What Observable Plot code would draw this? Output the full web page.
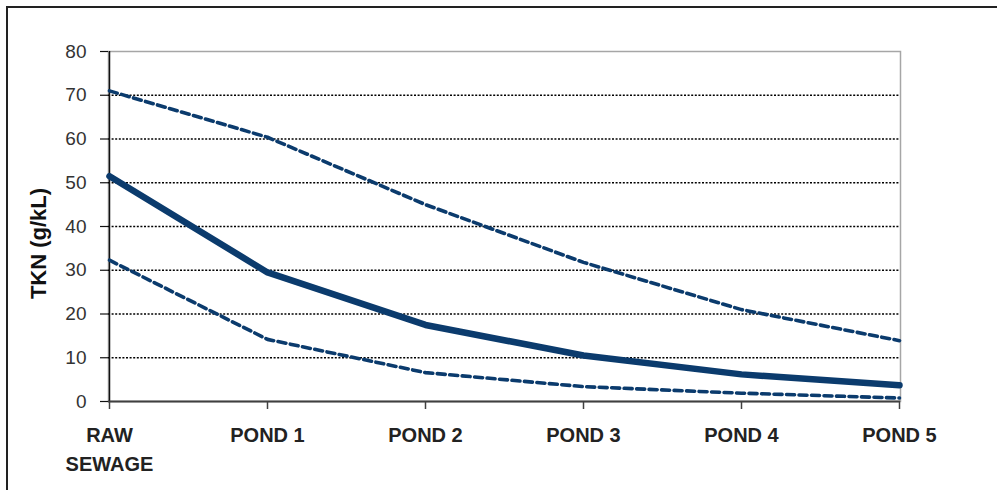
<!DOCTYPE html>
<html>
<head>
<meta charset="utf-8">
<script src="https://cdn.jsdelivr.net/npm/d3@7"></script>
<script src="https://cdn.jsdelivr.net/npm/@observablehq/plot@0.6"></script>
<style>
  html, body { margin: 0; padding: 0; background: #fff; }
  #wrap { position: relative; width: 997px; height: 490px; overflow: hidden; }
  #topBorder { position: absolute; left: 6px; top: 6px; right: 0; height: 2px; background: #222; }
  #leftBorder { position: absolute; left: 6px; top: 6px; width: 2px; bottom: 0; background: #222; }
  #chart { position: absolute; left: 0; top: 0; }
</style>
</head>
<body>
<div id="wrap">
  <div id="chart"></div>
  <div id="topBorder"></div>
  <div id="leftBorder"></div>
</div>
<script>
const categories = ["RAW SEWAGE", "POND 1", "POND 2", "POND 3", "POND 4", "POND 5"];
const meanValues = [51.5, 29.5, 17.5, 10.5, 6.2, 3.7];
const upperValues = [71, 60.4, 45, 31.8, 21, 13.9];
const lowerValues = [32.3, 14.2, 6.6, 3.4, 1.9, 0.8];
const yTicks = [0, 10, 20, 30, 40, 50, 60, 70, 80];
const gridTicks = [10, 20, 30, 40, 50, 60, 70];
const tickLabels = {"RAW SEWAGE": "RAW\nSEWAGE"};
const yLabel = "TKN (g/kL)";

const rows = (vals) => categories.map((c, i) => ({cat: c, v: vals[i]}));
const lineColor = "#0b3b6d";

const chart = Plot.plot({
  width: 997,
  height: 490,
  marginLeft: 108,
  marginRight: 97,
  marginTop: 51,
  marginBottom: 89,
  style: {fontFamily: "'Liberation Sans', Arial, sans-serif", background: "transparent"},
  x: {type: "point", domain: categories, padding: 0},
  y: {domain: [0, 80]},
  marks: [
    Plot.frame({stroke: "#a6a6a6", strokeWidth: 1.5}),
    Plot.gridY(gridTicks, {stroke: "#000", strokeOpacity: 1, strokeDasharray: "2,1.6", strokeWidth: 1.3}),
    Plot.ruleX([categories[0]], {stroke: "#111", strokeWidth: 1.5}),
    Plot.ruleY([0], {stroke: "#404040", strokeWidth: 2}),
    Plot.axisY(yTicks, {
      tickSize: 8, tickPadding: 14, stroke: "#111", fontSize: 19, fill: "#333",
      label: null, strokeWidth: 1.2
    }),
    Plot.axisX({
      tickSize: 8, tickPadding: 12, stroke: "#404040", strokeWidth: 1.5,
      fontSize: 20, fontWeight: "bold", fill: "#222", lineHeight: 1.45,
      tickFormat: d => tickLabels[d] || d, label: null
    }),
    Plot.line(rows(upperValues), {x: "cat", y: "v", stroke: lineColor, strokeWidth: 3.6, strokeDasharray: "8,4.5"}),
    Plot.line(rows(lowerValues), {x: "cat", y: "v", stroke: lineColor, strokeWidth: 3.6, strokeDasharray: "8,4.5"}),
    Plot.line(rows(meanValues), {x: "cat", y: "v", stroke: lineColor, strokeWidth: 6.5}),
    Plot.text([yLabel], {
      frameAnchor: "left", textAnchor: "middle", rotate: -90, dx: -70, dy: 17,
      text: d => d, fontSize: 22, fontWeight: "bold", fill: "#111"
    })
  ]
});
document.getElementById("chart").appendChild(chart);
</script>
</body>
</html>
